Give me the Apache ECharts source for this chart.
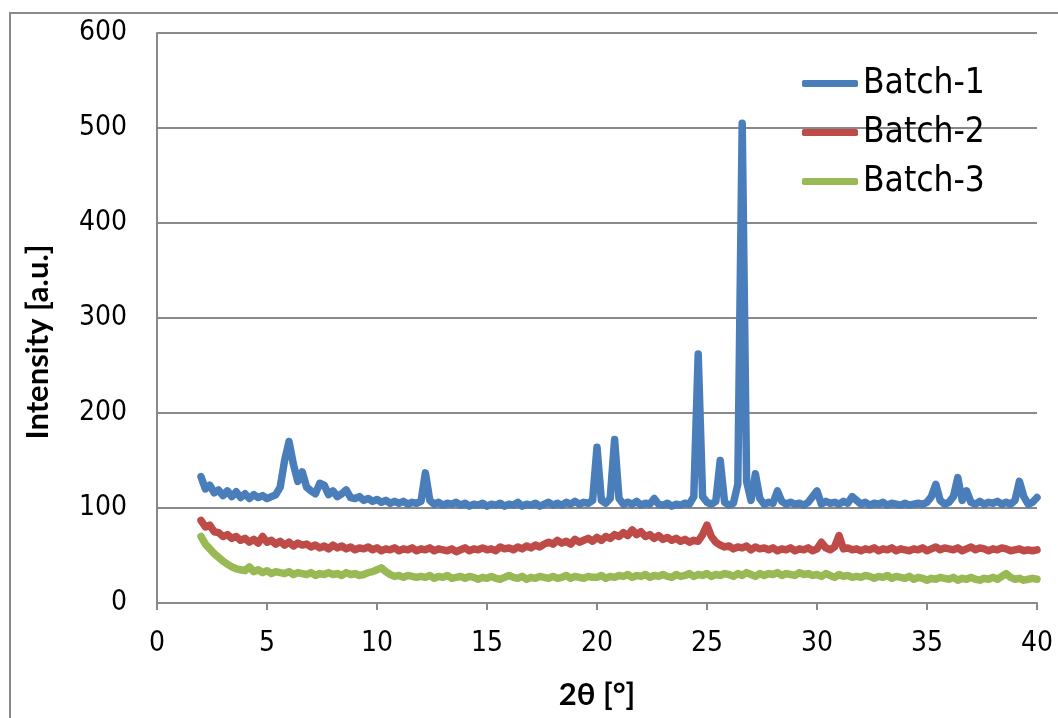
<!DOCTYPE html>
<html>
<head>
<meta charset="utf-8">
<script src="https://cdn.jsdelivr.net/npm/echarts@6/dist/echarts.min.js"></script>
<style>
html,body{margin:0;padding:0;background:#fff;}
#chart{width:1058px;height:718px;}
</style>
</head>
<body>
<div id="chart"></div>
<script>
// 2θ sampling positions [°]
const angles = [
  2.0,2.2,2.4,2.6,2.8,3.0,3.2,3.4,3.6,3.8,
  4.0,4.2,4.4,4.6,4.8,5.0,5.2,5.4,5.6,5.8,
  6.0,6.2,6.4,6.6,6.8,7.0,7.2,7.4,7.6,7.8,
  8.0,8.2,8.4,8.6,8.8,9.0,9.2,9.4,9.6,9.8,
  10.0,10.2,10.4,10.6,10.8,11.0,11.2,11.4,11.6,11.8,
  12.0,12.2,12.4,12.6,12.8,13.0,13.2,13.4,13.6,13.8,
  14.0,14.2,14.4,14.6,14.8,15.0,15.2,15.4,15.6,15.8,
  16.0,16.2,16.4,16.6,16.8,17.0,17.2,17.4,17.6,17.8,
  18.0,18.2,18.4,18.6,18.8,19.0,19.2,19.4,19.6,19.8,
  20.0,20.2,20.4,20.6,20.8,21.0,21.2,21.4,21.6,21.8,
  22.0,22.2,22.4,22.6,22.8,23.0,23.2,23.4,23.6,23.8,
  24.0,24.2,24.4,24.6,24.8,25.0,25.2,25.4,25.6,25.8,
  26.0,26.2,26.4,26.6,26.8,27.0,27.2,27.4,27.6,27.8,
  28.0,28.2,28.4,28.6,28.8,29.0,29.2,29.4,29.6,29.8,
  30.0,30.2,30.4,30.6,30.8,31.0,31.2,31.4,31.6,31.8,
  32.0,32.2,32.4,32.6,32.8,33.0,33.2,33.4,33.6,33.8,
  34.0,34.2,34.4,34.6,34.8,35.0,35.2,35.4,35.6,35.8,
  36.0,36.2,36.4,36.6,36.8,37.0,37.2,37.4,37.6,37.8,
  38.0,38.2,38.4,38.6,38.8,39.0,39.2,39.4,39.6,39.8,
  40.0
];

const batch1 = [
  133,120,124,116,119,113,118,112,117,111,
  115,110,114,111,113,110,112,114,122,150,
  170,146,128,138,122,118,115,126,124,114,
  118,112,115,119,111,110,112,108,110,107,
  109,106,108,105,107,105,107,104,106,105,
  107,137,108,104,106,103,105,104,106,103,
  105,102,104,103,105,102,104,103,105,102,
  104,103,106,102,104,103,105,102,104,106,
  103,105,103,106,104,107,104,106,105,108,
  164,108,105,110,172,110,104,106,104,107,
  103,105,104,110,104,103,105,102,104,103,
  105,104,112,262,112,106,104,107,150,106,
  103,105,125,505,128,108,136,110,104,106,
  105,118,107,104,106,104,105,103,106,112,
  118,104,107,105,106,104,107,105,112,108,
  104,106,103,105,104,106,103,105,104,103,
  105,103,104,105,104,106,112,125,108,104,
  106,112,132,108,118,106,104,107,104,106,
  105,107,104,106,104,108,128,112,104,106,
  111
];

const batch2 = [
  87,80,82,75,74,70,72,68,70,66,
  68,64,67,63,70,64,66,62,65,61,
  64,60,63,61,62,59,61,58,60,57,
  61,58,60,57,59,56,58,57,59,56,
  58,55,57,56,58,55,57,56,58,55,
  57,56,58,55,57,56,55,57,54,56,
  58,55,57,56,58,56,57,55,59,57,
  58,56,59,57,60,58,61,59,62,64,
  62,66,63,65,62,67,64,66,68,65,
  69,66,70,68,72,70,74,71,77,72,
  75,70,72,68,71,67,69,66,68,65,
  67,64,66,65,72,82,70,64,61,59,
  60,57,59,58,60,56,59,57,58,56,
  58,55,57,56,58,55,57,56,58,55,
  57,64,58,56,59,71,57,58,56,57,
  55,57,56,58,55,57,56,58,55,57,
  56,55,57,56,58,55,57,59,56,58,
  57,56,58,55,57,59,56,58,57,55,
  57,56,58,57,55,56,57,55,56,55,
  56
];

const batch3 = [
  70,62,57,52,48,44,41,38,36,35,
  34,38,33,35,32,34,31,33,32,31,
  33,30,32,31,30,32,29,31,30,32,
  30,31,29,32,30,31,29,30,32,33,
  35,37,33,30,28,29,27,29,28,27,
  28,27,29,26,28,27,29,26,27,28,
  26,28,27,25,27,26,28,26,25,27,
  29,27,26,28,25,27,26,28,27,26,
  28,26,27,29,26,28,27,26,28,27,
  27,29,26,28,27,29,28,30,27,29,
  28,30,27,29,28,30,28,27,30,28,
  29,31,28,30,29,31,28,30,29,31,
  30,28,31,29,32,30,28,31,29,31,
  30,32,29,31,30,29,32,30,31,29,
  30,28,31,29,27,30,28,29,27,28,
  27,29,28,26,28,27,29,26,28,27,
  26,28,25,27,26,24,26,25,27,26,
  25,27,24,26,25,27,25,24,26,25,
  27,25,28,31,27,25,26,24,25,26,
  25
];

const seriesNames = ['Batch-1', 'Batch-2', 'Batch-3'];
const xTitle = '2θ [°]';
const yTitle = 'Intensity [a.u.]';

const tickFont = '"DejaVu Sans Condensed", "Liberation Sans", sans-serif';
const titleFont = 'Lato, "Open Sans", "Liberation Sans", sans-serif';
const colors = ['#4a7ebb', '#be4b48', '#98b954'];
const gridGray = '#898989';

function pairs(vals) { return angles.map((a, i) => [a, vals[i]]); }

const chart = echarts.init(document.getElementById('chart'), null, {renderer: 'canvas'});
chart.setOption({
  animation: false,
  backgroundColor: '#ffffff',
  color: colors,
  graphic: [{
    type: 'rect',
    shape: {x: 10, y: 13, width: 1100, height: 800},
    style: {fill: 'none', stroke: gridGray, lineWidth: 2},
    silent: true,
    z: -1
  }],
  grid: {left: 157, right: 21, top: 33, bottom: 115, containLabel: false},
  legend: {
    data: seriesNames,
    orient: 'vertical',
    left: 797,
    top: 61,
    itemWidth: 56,
    itemHeight: 7,
    itemGap: 14,
    icon: 'roundRect',
    textStyle: {fontFamily: tickFont, fontSize: 35, color: '#000'}
  },
  xAxis: {
    type: 'value',
    min: 0, max: 40, interval: 5,
    name: xTitle,
    nameLocation: 'middle',
    nameGap: 76,
    nameTextStyle: {fontFamily: titleFont, fontWeight: 'bold', fontSize: 31, color: '#000'},
    axisLine: {show: true, lineStyle: {color: gridGray, width: 2}},
    axisTick: {show: true, inside: false, length: 7, lineStyle: {color: gridGray, width: 2}},
    axisLabel: {fontFamily: tickFont, fontSize: 28, color: '#000', margin: 27},
    splitLine: {show: false}
  },
  yAxis: {
    type: 'value',
    min: 0, max: 600, interval: 100,
    name: yTitle,
    nameLocation: 'middle',
    nameGap: 104,
    nameTextStyle: {fontFamily: titleFont, fontWeight: 'bold', fontSize: 31, color: '#000', padding: [0, 48, 0, 0]},
    axisLine: {show: true, lineStyle: {color: gridGray, width: 2}},
    axisTick: {show: false},
    axisLabel: {fontFamily: tickFont, fontSize: 28, color: '#000', margin: 30},
    splitLine: {show: true, lineStyle: {color: gridGray, width: 2}}
  },
  series: [
    {name: seriesNames[0], type: 'line', data: pairs(batch1), showSymbol: false, symbol: 'none',
     lineStyle: {width: 7.5, color: colors[0], join: 'round', cap: 'round'}, z: 3},
    {name: seriesNames[1], type: 'line', data: pairs(batch2), showSymbol: false, symbol: 'none',
     lineStyle: {width: 7.5, color: colors[1], join: 'round', cap: 'round'}, z: 4},
    {name: seriesNames[2], type: 'line', data: pairs(batch3), showSymbol: false, symbol: 'none',
     lineStyle: {width: 7.5, color: colors[2], join: 'round', cap: 'round'}, z: 5}
  ]
});
</script>
</body>
</html>
